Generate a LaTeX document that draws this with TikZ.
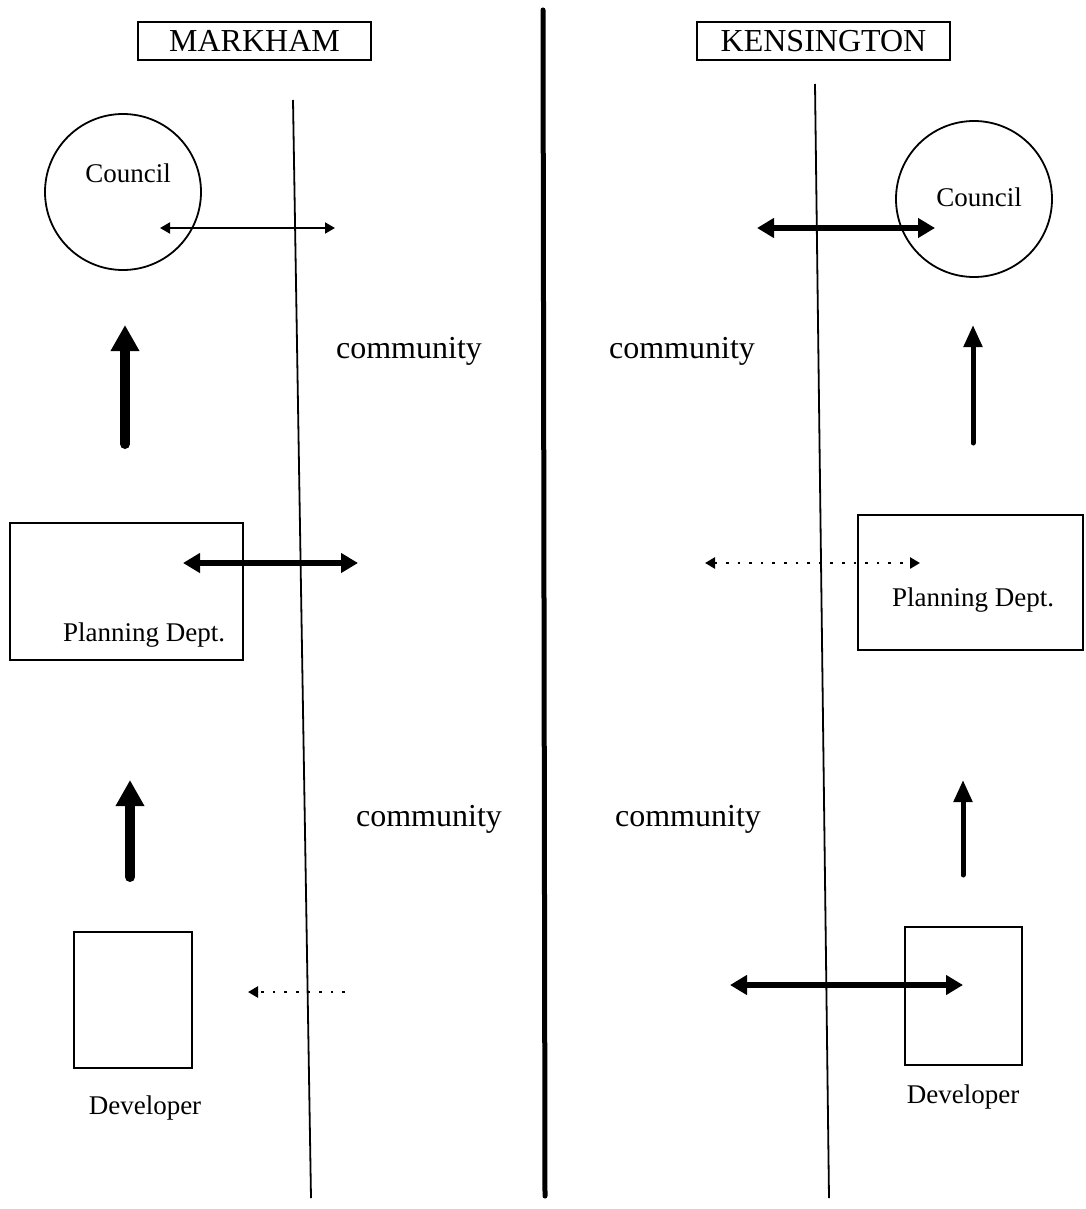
\documentclass[tikz,border=0pt]{standalone}
\usepackage{fontspec}
\setmainfont{Liberation Serif}
\usetikzlibrary{arrows.meta}
\tikzset{
  big/.style={font=\fontsize{32}{36}\selectfont, inner sep=0pt},
  lbl/.style={font=\fontsize{27}{30}\selectfont, inner sep=0pt},
  headbox/.style={draw, line width=1.6pt, inner sep=0pt, font=\fontsize{32}{36}\selectfont},
  boxnode/.style={draw, line width=1.8pt, inner sep=0pt},
  circnode/.style={draw, circle, line width=1.8pt, inner sep=0pt, minimum size=156pt},
  divider/.style={line width=1.8pt},
  thinarr/.style={line width=2pt, {Triangle[length=10pt,width=11pt]}-{Triangle[length=10pt,width=11pt]}},
  thickarr/.style={line width=5.5pt, {Triangle[length=17pt,width=19pt]}-{Triangle[length=17pt,width=19pt]}},
  dotarr/.style={line width=2.6pt, dash pattern=on 2.6pt off 9pt, {Triangle[length=10pt,width=11pt]}-{Triangle[length=10pt,width=11pt]}},
  dotarrone/.style={line width=2.6pt, dash pattern=on 2.6pt off 9pt, -{Triangle[length=10pt,width=11pt]}},
  fatup/.style={line width=10pt, line cap=round, -{Triangle[length=26pt,width=27pt]}},
  slimup/.style={line width=5pt, line cap=round, -{Triangle[length=22pt,width=18pt]}},
}
\begin{document}
\begin{tikzpicture}[x=1pt,y=-1pt]
\useasboundingbox (0,0) rectangle (1085,1209);
% headers
\node[headbox, minimum width=233pt, minimum height=38pt] (hm) at (254.5,41) {MARKHAM};
\node[headbox, minimum width=253pt, minimum height=38pt] (hk) at (823.5,41) {KENSINGTON};
% divider lines
\coordinate (ct) at (543,10);
\coordinate (cb) at (545,1196);
\draw[line width=5pt, line cap=round] (ct) -- (cb);
\coordinate (lt) at (293,100);
\coordinate (lb) at (311,1198);
\draw[divider] (lt) -- (lb);
\coordinate (rt) at (815,84);
\coordinate (rb) at (829,1198);
\draw[divider] (rt) -- (rb);
% Markham nodes
\node[circnode] (lc) at (123,192) {};
\node[lbl] (lct) at (128,173) {Council};
\node[boxnode, minimum width=233pt, minimum height=137pt] (lp) at (126.5,591.5) {};
\node[lbl] (lpt) at (144,635) {Planning Dept.};
\node[boxnode, minimum width=118pt, minimum height=136pt] (ld) at (133,1000) {};
\node[lbl] (ldt) at (145,1108) {Developer};
% Kensington nodes
\node[circnode] (rc) at (974,199) {};
\node[lbl] (rct) at (979,197) {Council};
\node[boxnode, minimum width=225pt, minimum height=135pt] (rp) at (970.5,582.5) {};
\node[lbl] (rpt) at (973,600) {Planning Dept.};
\node[boxnode, minimum width=117pt, minimum height=138pt] (rd) at (963.5,996) {};
\node[lbl] (rdt) at (963,1097) {Developer};
% community labels
\node[big] (c1) at (409,351) {community};
\node[big] (c2) at (682,351) {community};
\node[big] (c3) at (429,819) {community};
\node[big] (c4) at (688,819) {community};
% horizontal arrows
\coordinate (a1l) at (160,228); \coordinate (a1r) at (335,228);
\draw[thinarr] (a1l) -- (a1r);
\coordinate (a2l) at (757,228); \coordinate (a2r) at (935,228);
\draw[thickarr] (a2l) -- (a2r);
\coordinate (a3l) at (183,563); \coordinate (a3r) at (358,563);
\draw[thickarr] (a3l) -- (a3r);
\coordinate (a4l) at (705,563); \coordinate (a4r) at (920,563);
\draw[dotarr] (a4l) -- (a4r);
\coordinate (a5l) at (248,992); \coordinate (a5r) at (345,992);
\draw[dotarrone] (a5r) -- (a5l);
\coordinate (a6l) at (730,985); \coordinate (a6r) at (963,985);
\draw[thickarr] (a6l) -- (a6r);
% vertical arrows
\coordinate (u1b) at (125,444); \coordinate (u1t) at (125,325);
\draw[fatup] (u1b) -- (u1t);
\coordinate (u2b) at (130,877); \coordinate (u2t) at (130,780);
\draw[fatup] (u2b) -- (u2t);
\coordinate (u3b) at (973,443); \coordinate (u3t) at (973,325);
\draw[slimup] (u3b) -- (u3t);
\coordinate (u4b) at (963,875); \coordinate (u4t) at (963,780);
\draw[slimup] (u4b) -- (u4t);
\end{tikzpicture}
\end{document}
